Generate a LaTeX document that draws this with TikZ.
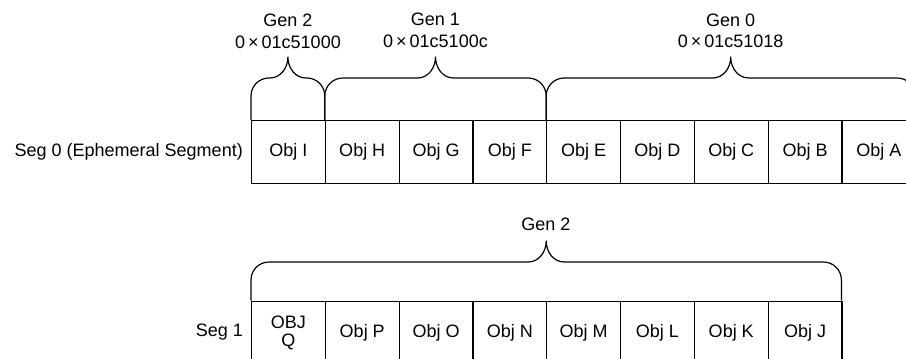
\documentclass[tikz,border=0pt]{standalone}
\usepackage{fontspec}
\setmainfont{Liberation Sans}
\tikzset{
  objbox/.style={draw, line width=1.1pt, minimum width=73.8pt, minimum height=63pt, inner sep=0pt, anchor=north west, align=center},
  lbl/.style={inner sep=0pt, align=center},
  bracestyle/.style={draw, line width=1.2pt, line join=round}
}
% brace: x1, x2, ybase, yh, ytip
\newcommand{\curlyb}[5]{%
  \pgfmathsetmacro{\cbm}{(#1+#2)/2}%
  \draw[bracestyle] (#1,#3) -- (#1,#4+18) to[out=90,in=180] (#1+18,#4)
    -- (\cbm-18,#4) to[out=0,in=-90] (\cbm,#5) to[out=-90,in=180] (\cbm+18,#4)
    -- (#2-18,#4) to[out=0,in=90] (#2,#4+18) -- (#2,#3);}
\begin{document}
\begin{tikzpicture}[x=1pt,y=-1pt, font=\fontsize{18}{21}\selectfont]
\useasboundingbox (0,0) rectangle (906,359);
% top row
\foreach \t [count=\i from 0] in {Obj I,Obj H,Obj G,Obj F,Obj E,Obj D,Obj C,Obj B,Obj A}{
  \node[objbox] (t\i) at (251+73.8*\i,120) {\t};
}
% bottom row
\foreach \t [count=\i from 0] in {{OBJ\\[-3pt]Q},Obj P,Obj O,Obj N,Obj M,Obj L,Obj K,Obj J}{
  \node[objbox] (b\i) at (251+73.8*\i,300.5) {\t};
}
\node[lbl, anchor=east] (seg0) at (243,151.5) {Seg 0 (Ephemeral Segment)};
\node[lbl, anchor=east] (seg1) at (243,332) {Seg 1};
% braces
\curlyb{251}{324.8}{120}{78}{57}
\curlyb{324.8}{546.2}{120}{78}{57}
\curlyb{546.2}{915.2}{120}{78}{57}
\curlyb{251}{841.4}{300.5}{262}{241}
% labels
\node[lbl] (g2a) at (288,20.5) {Gen 2};
\node[lbl] (g2b) at (288,42.5) {0\,×\,01c51000};
\node[lbl] (g1a) at (435.5,19.5) {Gen 1};
\node[lbl] (g1b) at (435.5,41) {0\,×\,01c5100c};
\node[lbl] (g0a) at (730.7,20) {Gen 0};
\node[lbl] (g0b) at (730.7,41.5) {0\,×\,01c51018};
\node[lbl] (g2c) at (546,224) {Gen 2};
\end{tikzpicture}
\end{document}
